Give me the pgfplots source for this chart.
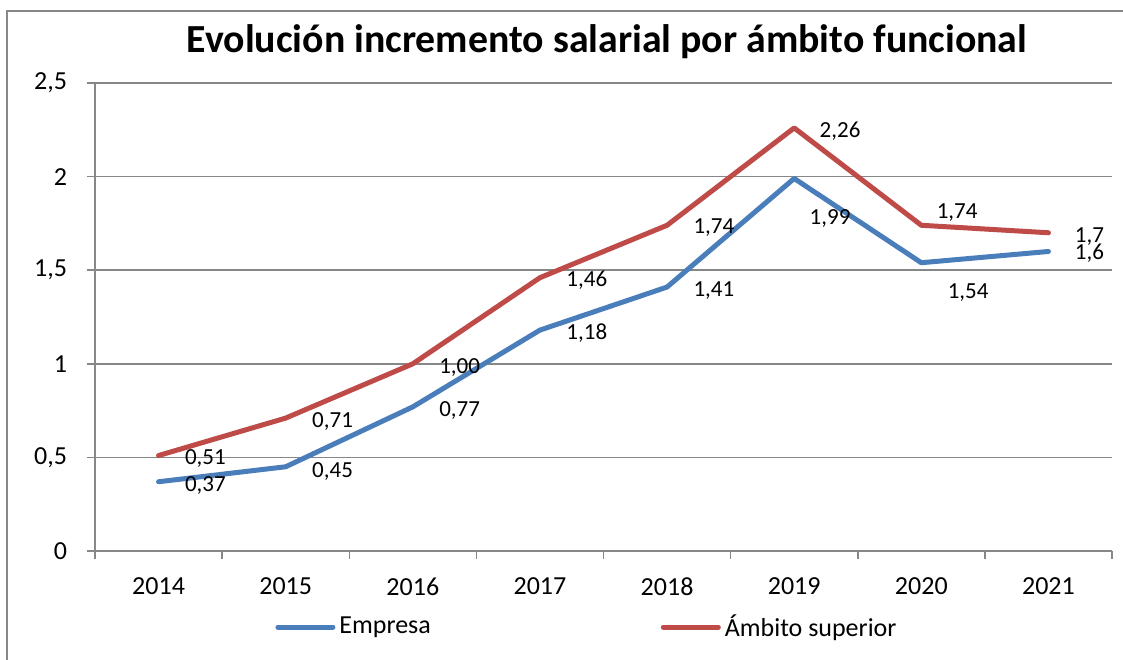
\documentclass[border=0pt]{standalone}
\usepackage{fontspec}
\setmainfont{Carlito}
\usepackage{pgfplots}
\usepackage{pgfplotstable}
\pgfplotsset{compat=1.18}

\definecolor{blu}{HTML}{4A7EBB}
\definecolor{rd}{HTML}{BE4B48}
\definecolor{gr}{HTML}{878787}

% x y label, then label offset in px (left edge, digit centre)
\pgfplotstableread{
x y lbl lx ly
0 0.37 0,37 24 2
1 0.45 0,45 24 3
2 0.77 0,77 24 2
3 1.18 1,18 24 2
4 1.41 1,41 24 2
5 1.99 1,99 13 38.5
6 1.54 1,54 24 28
7 1.6 1,6 24 1
}\empresa

\pgfplotstableread{
x y lbl lx ly
0 0.51 0,51 24 2
1 0.71 0,71 24 2
2 1.00 1,00 24 2
3 1.46 1,46 24 1.5
4 1.74 1,74 24 1
5 2.26 2,26 23 2
6 1.74 1,74 13 -14
7 1.7 1,7 24 2
}\superior

\begin{document}
\begin{tikzpicture}
\useasboundingbox (-47.5pt,-54pt) rectangle (514pt,275.5pt);
\begin{axis}[
    width=508.5pt, height=234pt, scale only axis,
    xmin=-0.5, xmax=7.5, ymin=0, ymax=2.5,
    clip=false,
    axis lines=left,
    axis line style={gr, line width=0.75pt, -},
    xtick={-0.5,0.5,...,7.5},
    x tick label as interval,
    xticklabels={2014,2015,2016,2017,2018,2019,2020,2021},
    ytick={0,0.5,...,2.5},
    tick align=outside,
    major tick length=4pt,
    tick style={gr, line width=0.75pt},
    ymajorgrids,
    grid style={gr, line width=0.75pt},
    tick label style={font=\fontsize{13}{15}\selectfont, black},
    yticklabel style={xshift=-6.5pt},
    xticklabel style={yshift=-5.8pt},
    /pgf/number format/use comma,
    /pgf/number format/assume math mode=true,
    legend columns=2,
    legend style={at={(0.177,-0.1624)}, anchor=west, draw=none, fill=none, inner sep=0pt,
        font=\fontsize{13}{15}\selectfont,
        /tikz/every even column/.append style={column sep=113pt}},
    legend image code/.code={\draw[#1, line cap=round] (0pt,0pt) -- (27.5pt,0pt);},
    point meta=explicit symbolic,
    nodes near coords,
    nodes near coords style={font=\fontsize{11.5}{13}\selectfont, black, anchor=base west, inner sep=0pt,
        xshift={0.5pt*\lx}, yshift={-0.5pt*\ly-3.65pt}},
    visualization depends on={\thisrow{lx} \as \lx},
    visualization depends on={\thisrow{ly} \as \ly},
]
\addplot[blu, line width=2.5pt, line cap=round, line join=round] table[x=x, y=y, meta=lbl] {\empresa};
\addlegendentry{Empresa}
\addplot[rd, line width=2.5pt, line cap=round, line join=round] table[x=x, y=y, meta=lbl] {\superior};
\addlegendentry{Ámbito superior}
\end{axis}
\node[anchor=base, inner sep=0pt, font=\bfseries\fontsize{19.9}{22}\selectfont] at (256pt,249pt)
    {Evolución incremento salarial por ámbito funcional};
\draw[gr, line width=0.75pt] (-44pt,-80pt) -- (-44pt,270pt) -- (540pt,270pt);
\end{tikzpicture}
\end{document}
